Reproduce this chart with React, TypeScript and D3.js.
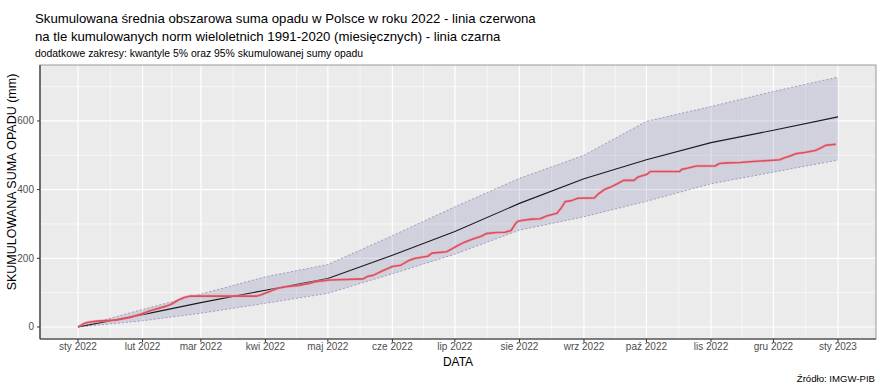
import React from 'react';
import * as d3 from 'd3';

// month starts (nodes of the norm and the quantile band)
const MONTHS = [
  '2022-01-01', '2022-02-01', '2022-03-01', '2022-04-01', '2022-05-01', '2022-06-01', '2022-07-01',
  '2022-08-01', '2022-09-01', '2022-10-01', '2022-11-01', '2022-12-01', '2023-01-01',
];
const MONTH_LABELS = ['sty 2022', 'lut 2022', 'mar 2022', 'kwi 2022', 'maj 2022', 'cze 2022', 'lip 2022',
  'sie 2022', 'wrz 2022', 'paź 2022', 'lis 2022', 'gru 2022', 'sty 2023'];
const NORM = [0, 36, 71, 107, 141, 209, 278, 360, 432, 487, 537, 573, 612];
const Q95 = [0, 51, 96, 146, 182, 266, 350, 433, 500, 599, 642, 686, 728];
const Q05 = [0, 18, 40, 69, 98, 155, 212, 282, 321, 366, 417, 451, 486];

// observed 2022 cumulative sum: day of year (0 = 1 Jan) and value in mm
const OBS_DAY = [0, 3, 5, 9, 18, 25, 30, 35, 42, 45, 48, 51, 54, 86, 88, 92, 96, 100, 106, 111, 114, 121,
  137, 139, 142, 146, 151, 155, 159, 162, 168, 170, 177, 180, 182, 185, 189, 194, 196, 201, 205, 208,
  210, 211, 213, 218, 222, 225, 230, 232, 234, 237, 240, 248, 250, 253, 256, 259, 262, 267, 269, 273,
  275, 289, 290, 293, 297, 306, 308, 312, 318, 324, 332, 337, 339, 342, 345, 349, 354, 356, 359, 364];
const OBS_VAL = [0, 10, 14, 17, 20, 28, 37, 48, 60, 67, 78, 86, 90, 90, 94, 103, 113, 117, 121, 127, 132, 137,
  140, 147, 151, 163, 176, 180, 194, 200, 206, 215, 219, 229, 236, 245, 255, 265, 272, 275, 276, 281,
  300, 307, 310, 314, 315, 323, 331, 346, 365, 368, 375, 376, 388, 401, 408, 417, 427, 427, 437, 444,
  453, 453, 459, 463, 469, 469, 476, 478, 479, 482, 485, 487, 492, 498, 505, 508, 514, 519, 529, 532];

const Y_TICKS = [0, 200, 400, 600];
const Y_MINOR = [100, 300, 500, 700];

const W = 880;
const H = 386;
const M = { left: 40, right: 876, top: 65, bottom: 339 };
const FONT = '"Liberation Sans", Arial, sans-serif';

export default function App() {
  const dates = MONTHS.map((s) => new Date(s + 'T00:00:00'));
  const start = dates[0].getTime();
  const end = dates[dates.length - 1].getTime();
  const pad = (end - start) * 0.05;

  const x = d3.scaleTime()
    .domain([new Date(start - pad), new Date(end + pad)])
    .range([M.left, M.right]);
  const y = d3.scaleLinear().domain([-35, 763]).range([M.bottom, M.top]);

  const minorX = dates.slice(1).map((d, i) => new Date((d.getTime() + dates[i].getTime()) / 2));

  const band = d3.area<number>()
    .x((i) => x(dates[i]))
    .y0((i) => y(Q05[i]))
    .y1((i) => y(Q95[i]));
  const edge = d3.line<number>().x((i) => x(dates[i]));
  const idx = dates.map((_, i) => i);

  const normLine = d3.line<number>().x((i) => x(dates[i])).y((i) => y(NORM[i]));
  const obsLine = d3.line<number>()
    .x((i) => x(new Date(2022, 0, 1 + OBS_DAY[i])))
    .y((i) => y(OBS_VAL[i]));
  const obsIdx = OBS_DAY.map((_, i) => i);

  return (
    <svg width={W} height={H} style={{ position: 'absolute', left: 0, top: 0, background: '#fff' }} fontFamily={FONT}>
      <text x={35} y={23} fontSize={13.2} fill="#000">Skumulowana średnia obszarowa suma opadu w Polsce w roku 2022 - linia czerwona</text>
      <text x={35} y={41} fontSize={13.2} fill="#000">na tle kumulowanych norm wieloletnich 1991-2020 (miesięcznych) - linia czarna</text>
      <text x={35} y={57} fontSize={10.4} fill="#000">dodatkowe zakresy: kwantyle 5% oraz 95% skumulowanej sumy opadu</text>

      <rect x={M.left} y={M.top} width={M.right - M.left} height={M.bottom - M.top} fill="#ebebeb" />
      {Y_MINOR.map((v) => (
        <line key={'ym' + v} x1={M.left} x2={M.right} y1={y(v)} y2={y(v)} stroke="#fff" strokeWidth={0.6} />
      ))}
      {minorX.map((d, i) => (
        <line key={'xm' + i} x1={x(d)} x2={x(d)} y1={M.top} y2={M.bottom} stroke="#fff" strokeWidth={0.6} />
      ))}
      {Y_TICKS.map((v) => (
        <line key={'yM' + v} x1={M.left} x2={M.right} y1={y(v)} y2={y(v)} stroke="#fff" strokeWidth={1.2} />
      ))}
      {dates.map((d, i) => (
        <line key={'xM' + i} x1={x(d)} x2={x(d)} y1={M.top} y2={M.bottom} stroke="#fff" strokeWidth={1.2} />
      ))}

      <path d={band(idx) ?? ''} fill="#3a3a8c" fillOpacity={0.15} />
      <path d={edge.y((i) => y(Q95[i]))(idx) ?? ''} fill="none" stroke="#7070a0" strokeWidth={0.6} strokeDasharray="2 2" />
      <path d={edge.y((i) => y(Q05[i]))(idx) ?? ''} fill="none" stroke="#7070a0" strokeWidth={0.6} strokeDasharray="2 2" />
      <path d={normLine(idx) ?? ''} fill="none" stroke="#1a1a1a" strokeWidth={1.1} />
      <path d={obsLine(obsIdx) ?? ''} fill="none" stroke="#f0a0aa" strokeWidth={3} strokeOpacity={0.6} strokeLinejoin="round" />
      <path d={obsLine(obsIdx) ?? ''} fill="none" stroke="#d9515f" strokeWidth={1.6} strokeLinejoin="round" />

      <rect x={M.left} y={M.top} width={M.right - M.left} height={M.bottom - M.top} fill="none" stroke="#999" strokeWidth={1} />
      <line x1={M.left} x2={M.right} y1={M.bottom} y2={M.bottom} stroke="#333" strokeWidth={1.2} />
      <line x1={M.left} x2={M.left} y1={M.top} y2={M.bottom} stroke="#333" strokeWidth={1.2} />

      {Y_TICKS.map((v) => (
        <g key={'yt' + v}>
          <line x1={M.left - 3} x2={M.left} y1={y(v)} y2={y(v)} stroke="#333" strokeWidth={1} />
          <text x={M.left - 6} y={y(v)} dy="0.35em" textAnchor="end" fontSize={10} fill="#4d4d4d">{v}</text>
        </g>
      ))}
      {dates.map((d, i) => (
        <g key={'xt' + i}>
          <line x1={x(d)} x2={x(d)} y1={M.bottom} y2={M.bottom + 3} stroke="#333" strokeWidth={1} />
          <text x={x(d)} y={M.bottom + 11} textAnchor="middle" fontSize={10} fill="#4d4d4d">{MONTH_LABELS[i]}</text>
        </g>
      ))}

      <text x={(M.left + M.right) / 2} y={365.5} textAnchor="middle" fontSize={12} fill="#000">DATA</text>
      <text transform={`translate(16,182) rotate(-90)`} textAnchor="middle" fontSize={12.5} fill="#000">SKUMULOWANA SUMA OPADU (mm)</text>
      <text x={875} y={382} textAnchor="end" fontSize={9.6} fill="#000">Źródło: IMGW-PIB</text>
    </svg>
  );
}
